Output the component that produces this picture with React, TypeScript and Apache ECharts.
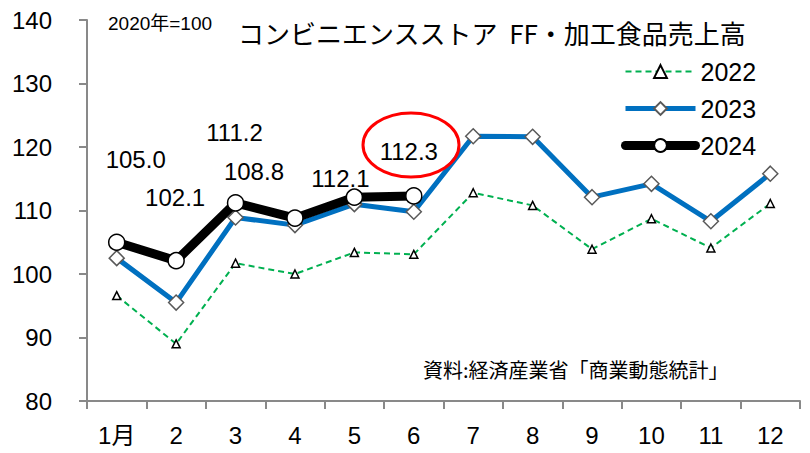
import React, { useEffect, useRef } from "react";
import * as echarts from "echarts";

const months = ["1月", "2", "3", "4", "5", "6", "7", "8", "9", "10", "11", "12"];
const s2022 = [96.6, 89.0, 101.7, 100.0, 103.4, 103.1, 112.8, 110.8, 103.9, 108.7, 104.1, 111.1];
const s2023 = [102.5, 95.5, 108.9, 107.7, 111.0, 109.8, 121.7, 121.6, 112.1, 114.2, 108.3, 115.8];
const s2024 = [105.0, 102.1, 111.2, 108.8, 112.1, 112.3];
const labelOffsets = [[19, -83], [-1, -63], [-1, -70], [-41, -47], [-14, -19], [-5, -44]];

const NUM_FONT = "'Liberation Sans', Arial, sans-serif";
const JP_FONT = "'Noto Sans CJK JP', sans-serif";
const MIX_FONT = "'Liberation Sans', 'Noto Sans CJK JP', sans-serif";

export default function App() {
  const ref = useRef<HTMLDivElement>(null);
  useEffect(() => {
    if (!ref.current) return;
    const chart = echarts.init(ref.current, null, { renderer: "svg" });
    chart.setOption({
      animation: false,
      backgroundColor: "#ffffff",
      grid: { left: 87, right: 10, top: 20, bottom: 52 },
      xAxis: {
        type: "category",
        data: months,
        boundaryGap: true,
        axisLine: { lineStyle: { color: "#898989", width: 2 } },
        axisTick: { show: true, length: 8, lineStyle: { color: "#898989", width: 2 } },
        axisLabel: { color: "#000", fontSize: 24, fontFamily: MIX_FONT, margin: 22 },
      },
      yAxis: {
        type: "value",
        min: 80,
        max: 140,
        interval: 10,
        splitLine: { show: false },
        axisLine: { show: true, lineStyle: { color: "#898989", width: 2 } },
        axisTick: { show: true, length: 8, lineStyle: { color: "#898989", width: 2 } },
        axisLabel: { color: "#000", fontSize: 24, fontFamily: NUM_FONT, margin: 35 },
      },
      legend: {
        orient: "vertical",
        left: 621,
        top: 59,
        padding: 0,
        itemWidth: 70,
        itemHeight: 16,
        itemGap: 12,
        itemTextGap: 4,
        textStyle: { fontSize: 25, fontFamily: NUM_FONT, color: "#000" },
        data: [
          { name: "2022", lineStyle: { width: 2, color: "#00b050", type: [6, 4] } },
          { name: "2023", lineStyle: { width: 5, color: "#0070c0" } },
          { name: "2024", lineStyle: { width: 9, color: "#000000", cap: "round" } },
        ],
      },
      series: [
        {
          name: "2022",
          type: "line",
          data: s2022,
          symbol: "triangle",
          symbolSize: 8,
          lineStyle: { color: "#00b050", width: 2, type: [6, 4] },
          itemStyle: { color: "#ffffff", borderColor: "#000", borderWidth: 1.5 },
          z: 2,
        },
        {
          name: "2023",
          type: "line",
          data: s2023,
          symbol: "diamond",
          symbolSize: 15,
          lineStyle: { color: "#0070c0", width: 5 },
          itemStyle: { color: "#ffffff", borderColor: "#595959", borderWidth: 1.5 },
          z: 3,
        },
        {
          name: "2024",
          type: "line",
          data: s2024.map((v, i) => ({
            value: v,
            label: { offset: labelOffsets[i] },
          })),
          symbol: "circle",
          symbolSize: 16,
          lineStyle: { color: "#000000", width: 9, cap: "round", join: "round" },
          itemStyle: { color: "#ffffff", borderColor: "#000", borderWidth: 1.5 },
          label: {
            show: true,
            position: "inside",
            align: "center",
            verticalAlign: "middle",
            fontSize: 24,
            fontFamily: NUM_FONT,
            color: "#000",
            formatter: (p: any) => Number(p.value).toFixed(1),
          },
          z: 4,
        },
      ],
      graphic: [
        {
          type: "text",
          left: 108,
          top: 14,
          style: { text: "2020年=100", fontSize: 19, fontFamily: MIX_FONT, fill: "#000" },
        },
        {
          type: "text",
          left: 238,
          top: 19,
          style: { text: "コンビニエンスストア  FF・加工食品売上高", fontSize: 26, fontFamily: JP_FONT, fill: "#000" },
        },
        {
          type: "text",
          left: 423,
          top: 359,
          style: { text: "資料:経済産業省「商業動態統計」", fontSize: 20, fontFamily: JP_FONT, fill: "#000" },
        },
        {
          type: "ellipse",
          shape: { cx: 411, cy: 145, rx: 48, ry: 32 },
          style: { fill: "none", stroke: "#ff0000", lineWidth: 3 },
          z: 10,
        },
      ],
    });
    return () => chart.dispose();
  }, []);
  return (
    <div
      ref={ref}
      style={{ position: "fixed", left: 0, top: 0, width: 810, height: 453, background: "#fff" }}
    />
  );
}
